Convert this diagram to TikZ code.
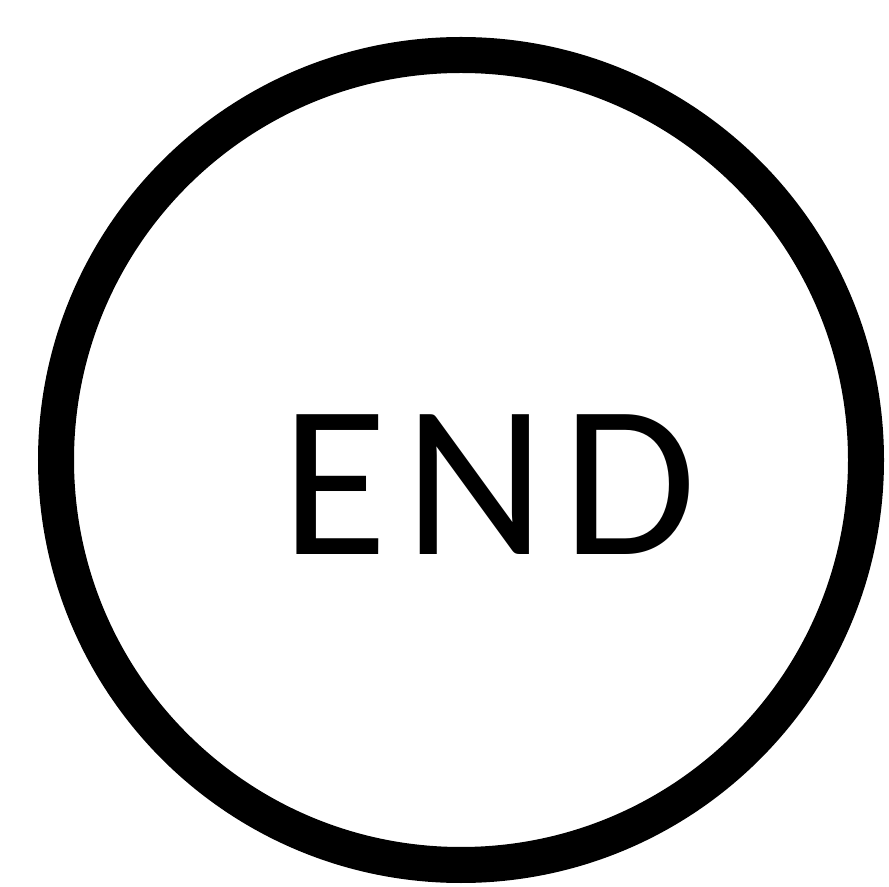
\documentclass[tikz,border=0pt]{standalone}
\usepackage{fontspec}
\setmainfont{Carlito}
\usetikzlibrary{positioning}
\tikzset{
  terminal/.style={
    draw, circle, line width=0.36cm, minimum size=8.10cm, inner sep=0pt
  },
  termtext/.style={font=\fontsize{62}{62}\selectfont, inner sep=0pt, anchor=base}
}
\begin{document}
\begin{tikzpicture}
  \useasboundingbox (0,0) rectangle (8.89,8.86);
  \node[terminal] (stop) at (4.61,4.26) {};
  \node[termtext] (stoplabel) at (4.89,3.31) {E\kern4.8pt N\kern4.8pt D};
\end{tikzpicture}
\end{document}
